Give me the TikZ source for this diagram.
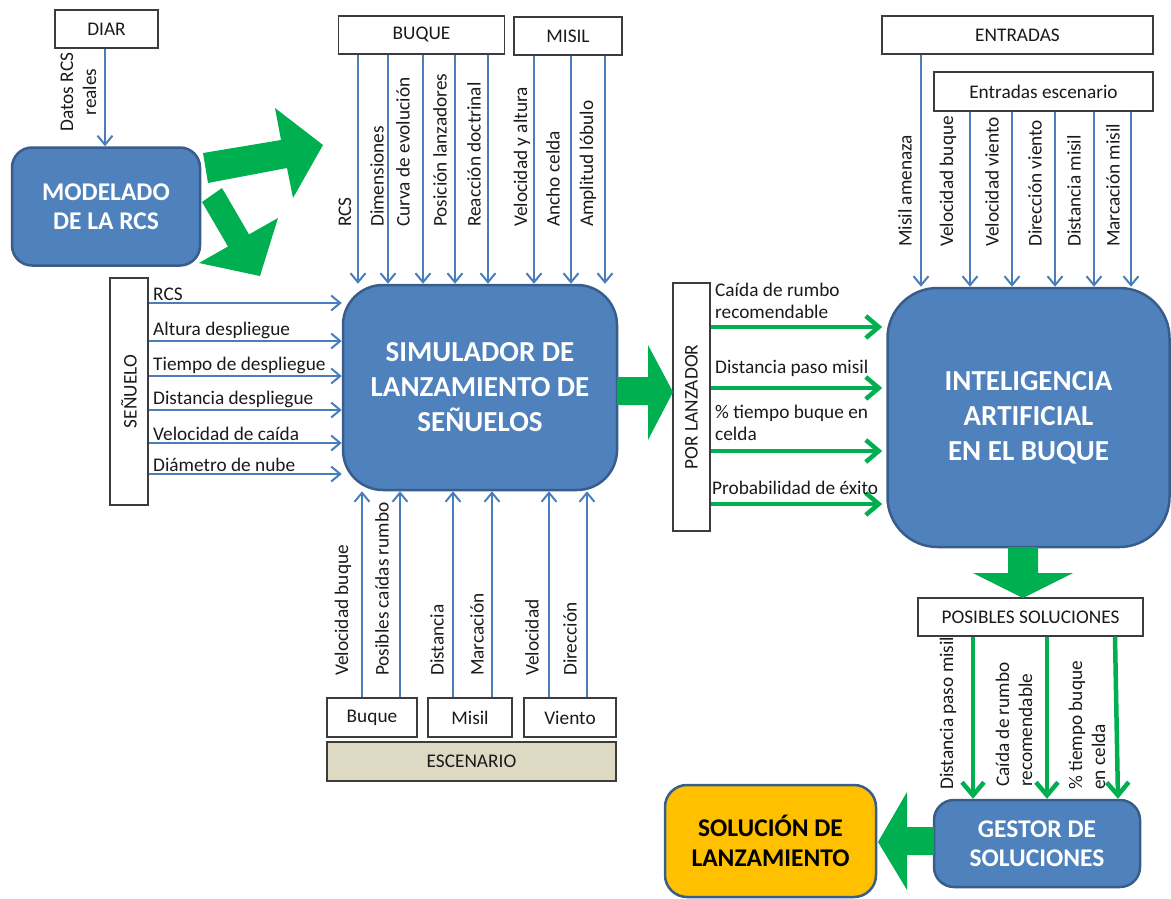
\documentclass[tikz,border=0pt]{standalone}
\usepackage{fontspec}
\setmainfont{Carlito}
\usetikzlibrary{arrows.meta}
\definecolor{boxblue}{HTML}{4F81BD}
\definecolor{boxedge}{HTML}{385D8A}
\definecolor{flowblue}{HTML}{4A7EBB}
\definecolor{flowgreen}{HTML}{00B050}
\definecolor{sand}{HTML}{DDD9C3}
\definecolor{amber}{HTML}{FFC000}
\definecolor{ink}{HTML}{1A1A1A}

\begin{document}
\begin{tikzpicture}[x=1pt,y=-1pt,
  txt/.style={font=\fontsize{19.3}{22.5}\selectfont, text=ink},
  wbox/.style={txt, draw=ink!85, line width=1.2pt, fill=white, inner sep=0pt},
  bigbox/.style={draw=boxedge, line width=2.5pt, fill=boxblue, text=white, align=center,
    inner sep=0pt, font=\fontsize{29}{35}\selectfont\bfseries},
  midbox/.style={bigbox, font=\fontsize{25.5}{29.5}\selectfont\bfseries},
  vlab/.style={txt, rotate=90, anchor=west, inner sep=0pt},
  hlab/.style={txt, anchor=south west, inner sep=0pt},
  rlab/.style={txt, anchor=west, inner sep=0pt, align=left, font=\fontsize{19.3}{22}\selectfont},
  bflow/.style={draw=flowblue, line width=2pt, -{Straight Barb[length=9pt,width=15pt]}},
  gflow/.style={draw=flowgreen, line width=4.5pt, -{Straight Barb[length=13pt,width=22pt]}},
  block/.style={fill=flowgreen},
]
\useasboundingbox (0,0) rectangle (1171,898);

% ---------- boxes ----------
\node[wbox, minimum width=103pt, minimum height=38pt] (diar) at (106.5,29) {DIAR};
\node[midbox, rounded corners=20pt, minimum width=188pt, minimum height=118pt] (model) at (106,206.5) {MODELADO\\DE LA RCS};
\node[wbox, minimum width=166pt, minimum height=38pt] (buque) at (421.5,35) {BUQUE};
\node[wbox, minimum width=108pt, minimum height=38pt] (misil) at (568,36) {MISIL};
\node[wbox, minimum width=38pt, minimum height=227pt] (senuelo) at (129,391.5) {};
\node[txt, rotate=90] at (senuelo.center) {SEÑUELO};
\node[bigbox, rounded corners=40pt, minimum width=274pt, minimum height=205pt] (sim) at (480,387.5) {SIMULADOR DE\\LANZAMIENTO DE\\SEÑUELOS};
\node[wbox, minimum width=37pt, minimum height=248pt] (lanz) at (691.5,407) {};
\node[txt, rotate=90] at (lanz.center) {POR LANZADOR};
\node[bigbox, rounded corners=50pt, minimum width=282pt, minimum height=259pt] (ia) at (1028.5,417.5) {INTELIGENCIA\\ARTIFICIAL\\EN EL BUQUE};
\node[wbox, minimum width=271pt, minimum height=38pt] (entradas) at (1017.5,35) {ENTRADAS};
\node[wbox, minimum width=219pt, minimum height=39pt] (entesc) at (1043.5,91.5) {Entradas escenario};
\node[wbox, minimum width=225pt, minimum height=38pt] (posibles) at (1030.5,617) {POSIBLES SOLUCIONES};
\node[midbox, rounded corners=20pt, minimum width=206pt, minimum height=87pt] (gestor) at (1037,843.5) {GESTOR DE\\SOLUCIONES};
\node[midbox, rounded corners=22pt, fill=amber, text=black, minimum width=211pt, minimum height=112pt] (solucion) at (770.5,841) {SOLUCIÓN DE\\LANZAMIENTO};
\node[wbox, minimum width=90pt, minimum height=39pt] (bbuque) at (372,717.5) {Buque};
\node[wbox, minimum width=84pt, minimum height=39pt] (bmisil) at (470,717.5) {Misil};
\node[wbox, minimum width=92pt, minimum height=39pt] (bviento) at (570,717.5) {Viento};
\node[wbox, fill=sand, minimum width=289pt, minimum height=39pt] (escen) at (471.5,761.5) {ESCENARIO};

% ---------- DIAR -> modelado ----------
\draw[bflow] (diar.south -| 105,0) -- (model.north -| 105,0);
\node[txt, rotate=90, align=center, inner sep=0pt, font=\fontsize{19.3}{23}\selectfont] at (78.5,92) {Datos RCS\\reales};

% ---------- block arrows ----------
\fill[block] (203,153) -- (281,140) -- (275,108) -- (323,145) -- (293,198) -- (287,168) -- (208,183) -- cycle;
\fill[block] (202,202) -- (228,246.5) -- (199,263) -- (260,276) -- (278,218) -- (249,234.4) -- (222,188) -- cycle;
\fill[block] (617,377) -- (648,377) -- (648,345) -- (673,392) -- (648,440) -- (648,405) -- (617,405) -- cycle;
\fill[block] (1008,547) -- (1008,573) -- (973,573) -- (1023,598) -- (1073,573) -- (1038,573) -- (1038,547) -- cycle;
\fill[block] (934,827) -- (907,827) -- (907,792) -- (878,842) -- (907,890) -- (907,855) -- (934,855) -- cycle;

% ---------- BUQUE / MISIL inputs ----------
\foreach \x in {358,388,423,455,488}
  \draw[bflow] (buque.south -| \x,0) -- (sim.north -| \x,0);
\foreach \x in {534,571,605}
  \draw[bflow] (misil.south -| \x,0) -- (sim.north -| \x,0);
\node[vlab] at (345,227) {RCS};
\node[vlab] at (377,227) {Dimensiones};
\node[vlab] at (403,227) {Curva de evolución};
\node[vlab] at (440,227) {Posición lanzadores};
\node[vlab] at (474,227) {Reacción doctrinal};
\node[vlab] at (522,227) {Velocidad y altura};
\node[vlab] at (553,227) {Ancho celda};
\node[vlab] at (588,227) {Amplitud lóbulo};

% ---------- SEÑUELO inputs ----------
\foreach \y/\t in {303/RCS, 341/Altura despliegue, 376/Tiempo de despliegue,
                   410/Distancia despliegue, 443/Velocidad de caída, 474/Diámetro de nube}{
  \draw[bflow] (senuelo.east |- 0,\y) -- (sim.west |- 0,\y);
  \node[hlab] at (153,\y-2) {\t};
}

% ---------- ESCENARIO inputs ----------
\foreach \x in {362,400}
  \draw[bflow] (bbuque.north -| \x,0) -- (sim.south -| \x,0);
\foreach \x in {453,492}
  \draw[bflow] (bmisil.north -| \x,0) -- (sim.south -| \x,0);
\foreach \x in {549,587}
  \draw[bflow] (bviento.north -| \x,0) -- (sim.south -| \x,0);
\node[vlab] at (343,676) {Velocidad buque};
\node[vlab] at (382,676) {Posibles caídas rumbo};
\node[vlab] at (437,676) {Distancia};
\node[vlab] at (477,676) {Marcación};
\node[vlab] at (532,676) {Velocidad};
\node[vlab] at (570,676) {Dirección};

% ---------- launcher outputs ----------
\foreach \y in {327,388,451,504}
  \draw[gflow, shorten >=4pt] (lanz.east |- 0,\y) -- (ia.west |- 0,\y);
\node[rlab] at (715,301) {Caída de rumbo\\recomendable};
\node[rlab] at (715,368) {Distancia paso misil};
\node[rlab] at (715,423) {\% tiempo buque en\\celda};
\node[rlab] at (712,488) {Probabilidad de éxito};

% ---------- ENTRADAS inputs ----------
\draw[bflow] (entradas.south -| 921,0) -- (ia.north -| 921,0);
\foreach \x in {970,1012,1055,1094,1131}
  \draw[bflow] (entesc.south -| \x,0) -- (ia.north -| \x,0);
\node[vlab] at (905,247) {Misil amenaza};
\node[vlab] at (948,247) {Velocidad buque};
\node[vlab] at (992,247) {Velocidad viento};
\node[vlab] at (1035,247) {Dirección viento};
\node[vlab] at (1074,247) {Distancia misil};
\node[vlab] at (1113,247) {Marcación misil};

% ---------- possible solutions ----------
\draw[gflow] (posibles.south -| 973,0) -- (gestor.north -| 973,0);
\draw[gflow] (posibles.south -| 1047,0) -- (gestor.north -| 1047,0);
\draw[gflow] (posibles.south -| 1115,0) -- (gestor.north -| 1118,0);
\node[vlab] at (948,790) {Distancia paso misil};
\node[vlab, align=left, font=\fontsize{19.3}{23}\selectfont] at (1014,787) {Caída de rumbo\\recomendable};
\node[vlab, align=left, font=\fontsize{19.3}{23}\selectfont] at (1087,790) {\% tiempo buque\\en celda};

\end{tikzpicture}
\end{document}
